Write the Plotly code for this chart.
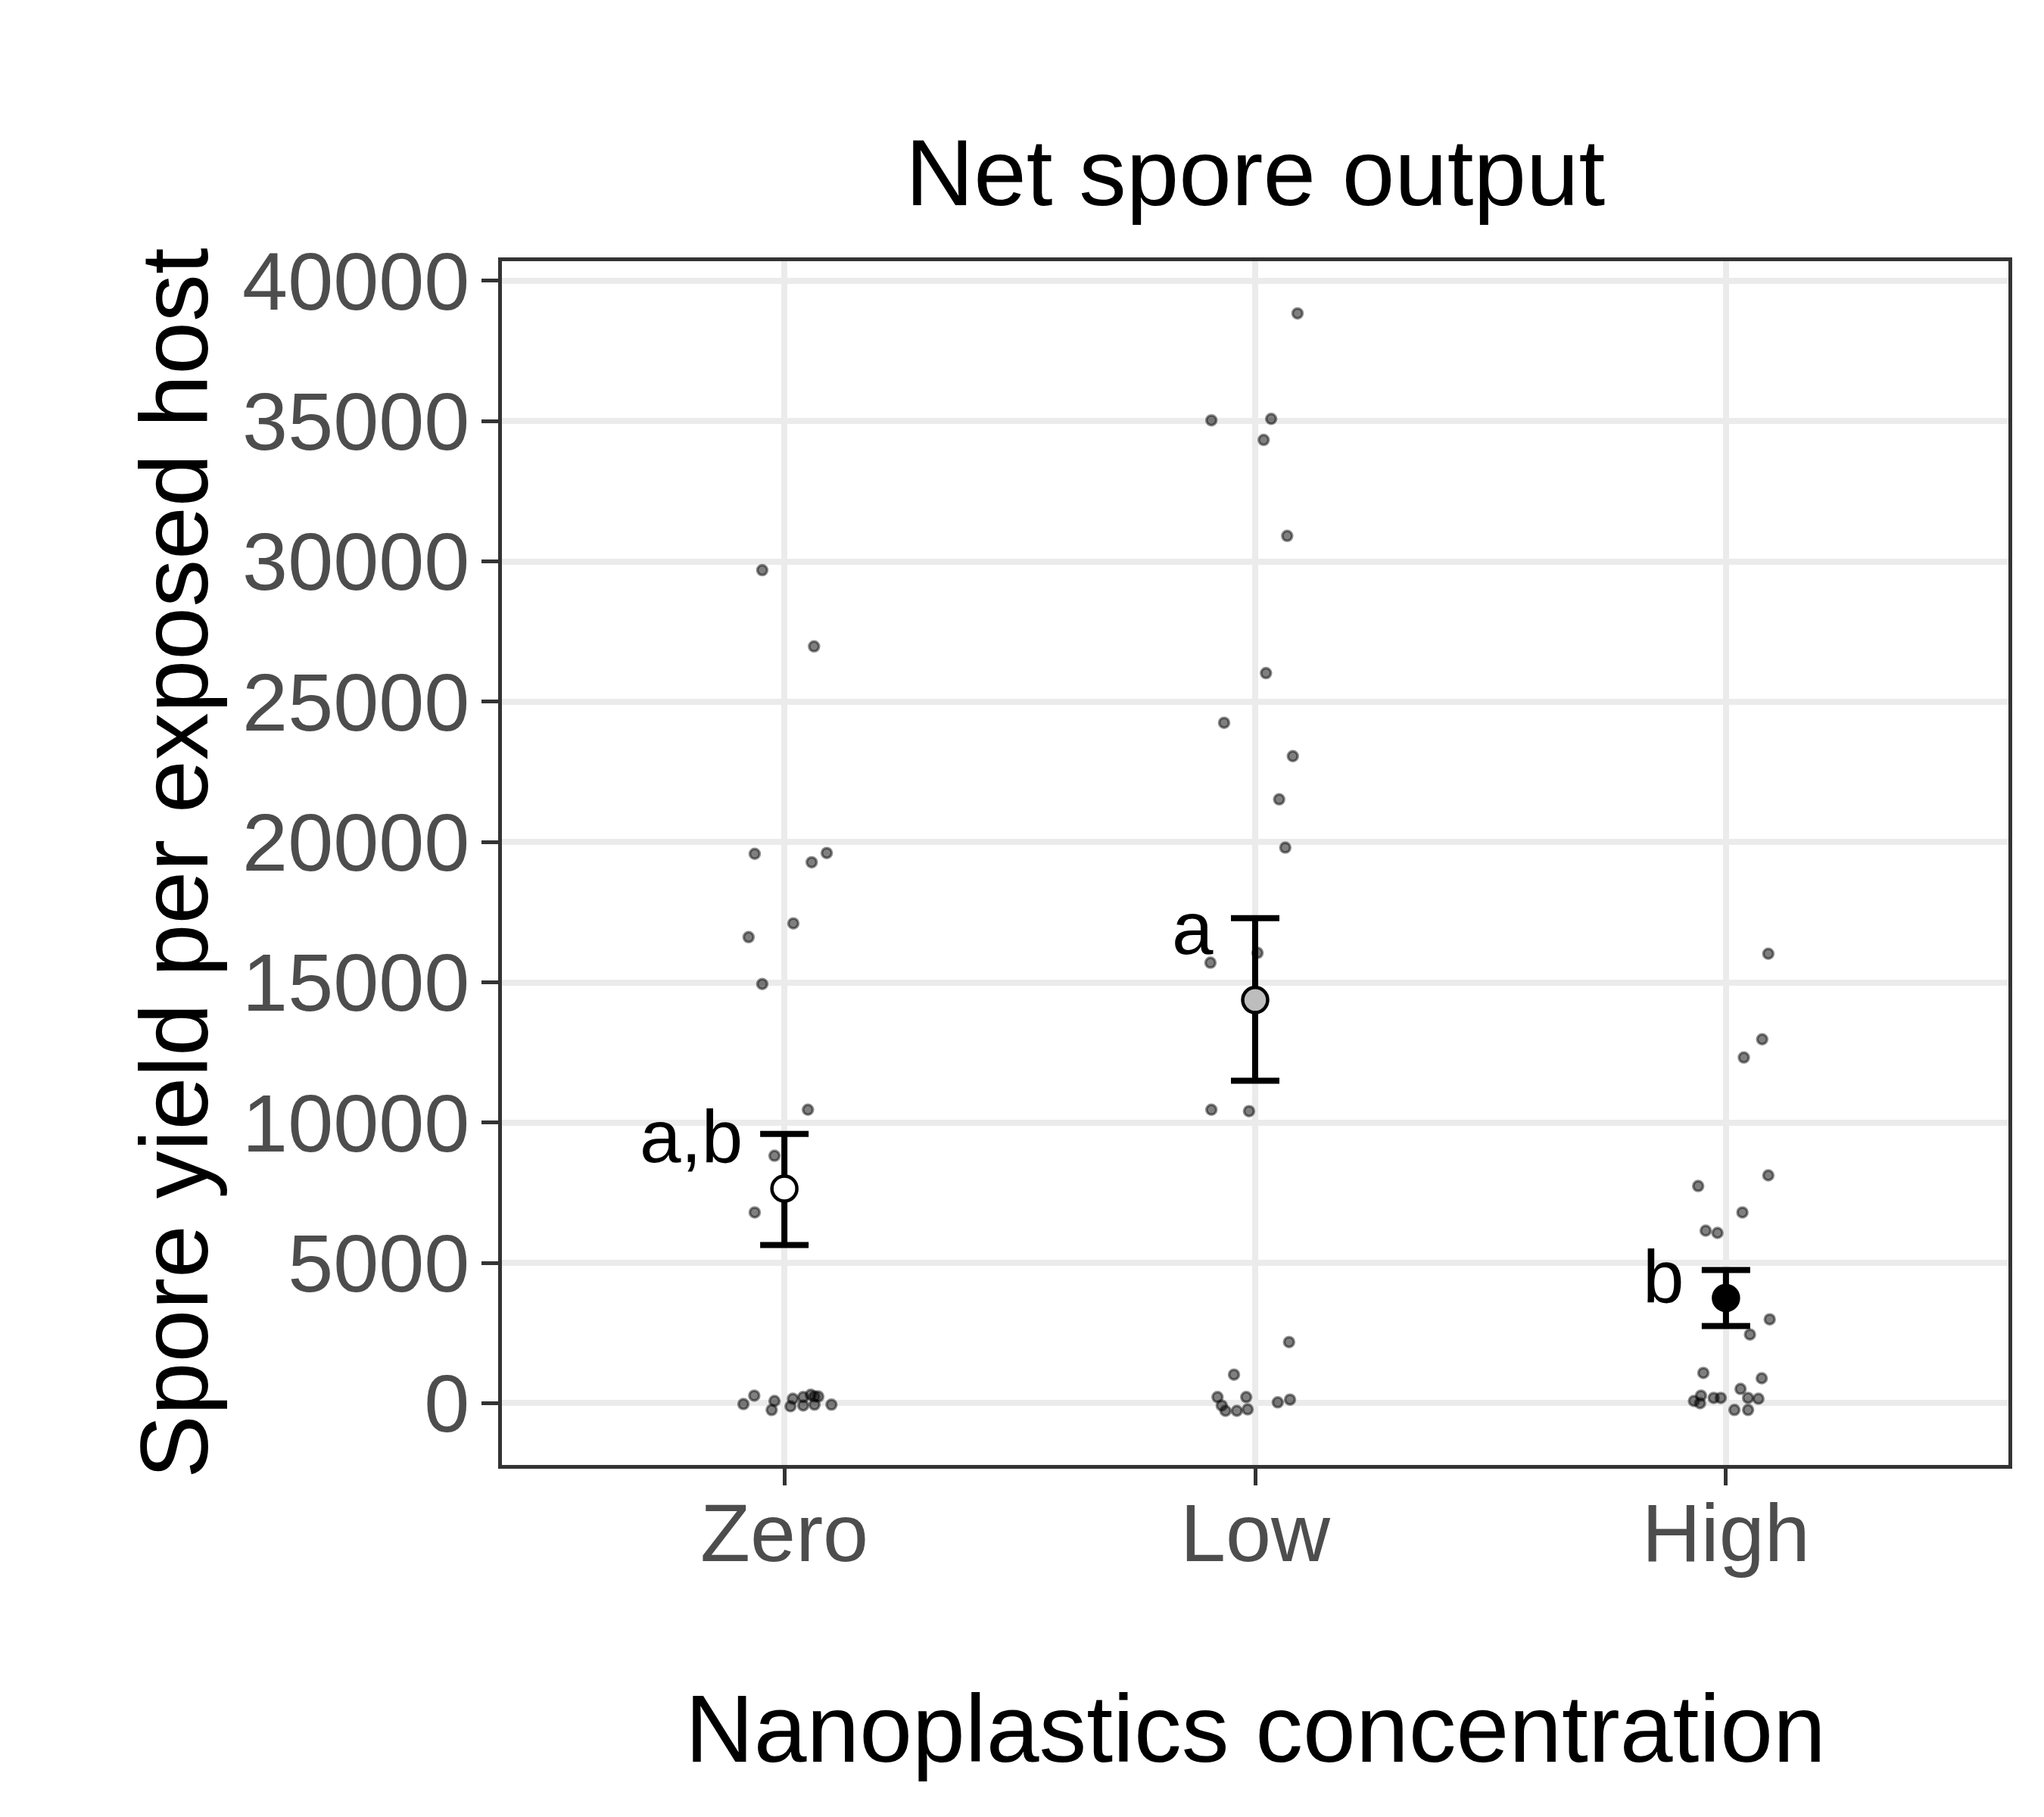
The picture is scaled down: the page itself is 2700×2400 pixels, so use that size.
import plotly.graph_objects as go

# ---- data ----
categories = ["Zero", "Low", "High"]

zero_offset = [-0.047, 0.063, -0.063, 0.058, 0.090, 0.019, -0.076, -0.047, 0.050, -0.021, -0.063,
               -0.087, -0.064, -0.021, -0.027, 0.018, 0.013, 0.040, 0.040, 0.064, 0.072, 0.064, 0.100, 0.056]
zero_values = [29690, 26970, 19580, 19280, 19610, 17100, 16610, 14940, 10460, 8820, 6800,
               -30, 270, 80, -240, 160, -110, 220, -80, 240, 240, -50, -50, 300]

low_offset = [0.090, -0.093, 0.034, 0.018, 0.068, 0.023, -0.066, 0.080, 0.051, 0.064, -0.095, 0.005,
              -0.093, -0.013, 0.072, -0.045, -0.080, -0.071, -0.063, -0.039, -0.019, -0.016, 0.048, 0.074]
low_values = [38840, 35030, 35080, 34330, 30910, 26020, 24250, 23060, 21520, 19800, 15700, 16050,
              10460, 10410, 2180, 1020, 220, -80, -270, -270, 220, -220, 30, 130]

high_offset = [0.090, 0.077, 0.038, 0.090, -0.059, 0.035, -0.043, -0.018, 0.093, 0.051, -0.048,
               0.076, 0.031, 0.047, 0.069, -0.068, -0.053, -0.055, -0.026, -0.011, 0.018, 0.047]
high_values = [16020, 12970, 12320, 8120, 7740, 6800, 6150, 6070, 2990, 2450, 1080,
               890, 510, 190, 160, 80, 270, 0, 190, 190, -240, -240]

means = [7650, 14370, 3750]
upper = [9600, 17290, 4750]
lower = [5640, 11490, 2750]
mean_fill = ["#FFFFFF", "#BDBDBD", "#000000"]

letters = ["a,b", "a", "b"]
letter_y = [9520, 16940, 4530]

y_ticks = [0, 5000, 10000, 15000, 20000, 25000, 30000, 35000, 40000]

FONT = "Liberation Sans, Arial, sans-serif"

fig = go.Figure()

groups = [(zero_offset, zero_values), (low_offset, low_values), (high_offset, high_values)]
for i, (offs, vals) in enumerate(groups):
    fig.add_trace(go.Scatter(
        x=[i + 1 + o for o in offs], y=vals, mode="markers",
        marker=dict(size=13, color="rgba(0,0,0,0.5)",
                    line=dict(color="rgba(0,0,0,0.45)", width=3.5)),
        showlegend=False, hoverinfo="skip"))

xs = [i + 1 for i in range(len(categories))]
fig.add_trace(go.Scatter(
    x=xs, y=means, mode="markers",
    marker=dict(size=33, color=mean_fill, line=dict(color="black", width=4.5)),
    error_y=dict(type="data", symmetric=False,
                 array=[u - m for u, m in zip(upper, means)],
                 arrayminus=[m - l for m, l in zip(means, lower)],
                 color="black", thickness=8, width=32),
    showlegend=False))

for i, (lab, ly) in enumerate(zip(letters, letter_y)):
    fig.add_annotation(x=i + 1, y=ly, text=lab, showarrow=False, xanchor="right", yanchor="middle",
                       xshift=-53, font=dict(family=FONT, size=98, color="black"))

fig.add_annotation(x=0.5, y=1.0742, xref="paper", yref="paper", text="Net spore output",
                   showarrow=False, xanchor="center", yanchor="middle",
                   font=dict(family=FONT, size=125, color="black"))
fig.add_annotation(x=0.5, y=-0.2192, xref="paper", yref="paper", text="Nanoplastics concentration",
                   showarrow=False, xanchor="center", yanchor="middle",
                   font=dict(family=FONT, size=125.5, color="black"))
fig.add_annotation(x=-0.2176, y=0.5, xref="paper", yref="paper", text="Spore yield per exposed host",
                   showarrow=False, xanchor="center", yanchor="middle", textangle=-90,
                   font=dict(family=FONT, size=125.5, color="black"))

fig.update_layout(
    width=2700, height=2400,
    margin=dict(l=663, r=47, t=345, b=465),
    paper_bgcolor="white", plot_bgcolor="white",
    font=dict(family=FONT),
    showlegend=False,
)
fig.update_xaxes(
    range=[0.4, 3.6], tickmode="array", tickvals=xs, ticktext=categories,
    showgrid=True, gridcolor="#EBEBEB", gridwidth=7.5, zeroline=False,
    showline=True, linecolor="#333333", linewidth=5, mirror=True,
    ticks="outside", ticklen=22, tickwidth=5, tickcolor="#333333",
    tickfont=dict(family=FONT, size=108, color="#4D4D4D"),
    ticklabelstandoff=-30,
)
fig.update_yaxes(
    range=[-2200, 40700], tickmode="array", tickvals=y_ticks, ticktext=[str(v) for v in y_ticks],
    showgrid=True, gridcolor="#EBEBEB", gridwidth=7.5, zeroline=False,
    showline=True, linecolor="#333333", linewidth=5, mirror=True,
    ticks="outside", ticklen=22, tickwidth=5, tickcolor="#333333",
    tickfont=dict(family=FONT, size=108, color="#4D4D4D"),
    ticklabelstandoff=-6,
)

fig.write_html("out.html", config={"displayModeBar": False},
               post_script="document.body.style.margin='0px';")
